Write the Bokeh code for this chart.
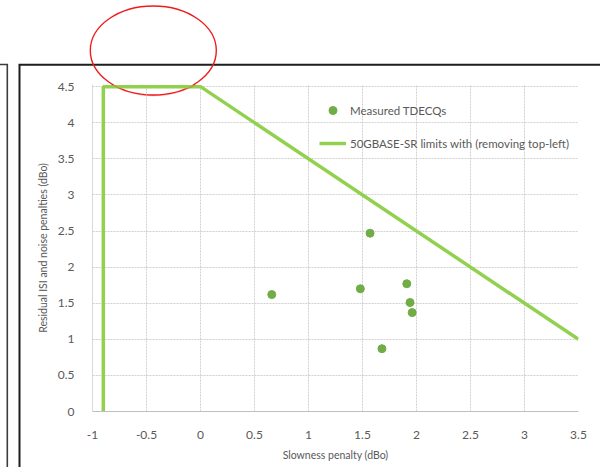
import numpy as np
from urllib.parse import quote
from bokeh.plotting import figure
from bokeh.models import Range1d, FixedTicker, Legend, LegendItem, PolyAnnotation
from bokeh.embed import file_html
from bokeh.resources import INLINE

# ---- data ----
tdecq_x = [0.66, 1.48, 1.57, 1.91, 1.94, 1.96, 1.68]
tdecq_y = [1.62, 1.70, 2.47, 1.77, 1.51, 1.37, 0.87]
limit_x = [-0.9, -0.9, 0.0, 3.5]
limit_y = [0.0, 4.5, 4.5, 1.0]
x_ticks = [-1, -0.5, 0, 0.5, 1, 1.5, 2, 2.5, 3, 3.5]
y_ticks = [0, 0.5, 1, 1.5, 2, 2.5, 3, 3.5, 4, 4.5]

W, H = 600, 467
BL, BR, BT, BB = 92, 22, 84, 56
FONT = "Lato"
GREY = "#595959"

# decoration drawn behind the canvas: outer panel frames and red ellipse
ELL_CX, ELL_CY, ELL_RX, ELL_RY = 153.3, 50.5, 63.0, 44.5
svg = (f'<svg xmlns="http://www.w3.org/2000/svg" width="{W}" height="{H}">'
       f'<path d="M0 64.5 H7.3 V{H}" fill="none" stroke="rgb(60,60,60)" stroke-width="1.6"/>'
       f'<path d="M19.5 {H} V64.7 H{W}" fill="none" stroke="rgb(30,30,30)" stroke-width="2"/>'
       f'<ellipse cx="{ELL_CX}" cy="{ELL_CY}" rx="{ELL_RX}" ry="{ELL_RY}" fill="none" '
       f'stroke="rgb(238,28,28)" stroke-width="1.4"/></svg>')

p = figure(width=W, height=H, output_backend="svg", toolbar_location=None,
           x_range=Range1d(-1, 3.5), y_range=Range1d(0, 4.53),
           min_border_left=BL, min_border_right=BR, min_border_top=BT,
           min_border_bottom=BB)
p.outline_line_color = None
p.background_fill_alpha = 0
p.border_fill_alpha = 0
p.styles = {"background-color": "white",
            "background-image": f'url("data:image/svg+xml,{quote(svg, safe="")}")',
            "background-repeat": "no-repeat"}

for ax in (p.xaxis[0], p.yaxis[0]):
    ax.major_tick_line_color = None
    ax.minor_tick_line_color = None
    ax.major_label_text_font = FONT
    ax.major_label_text_font_size = "12px"
    ax.major_label_text_color = GREY
    ax.axis_label_text_font = FONT
    ax.axis_label_text_font_size = "10.5px"
    ax.axis_label_text_font_style = "normal"
    ax.axis_label_text_color = GREY

p.xaxis.ticker = FixedTicker(ticks=x_ticks)
p.yaxis.ticker = FixedTicker(ticks=y_ticks)
p.xaxis.major_label_overrides = {-1: "-1", -0.5: "-0.5"}
p.xaxis.axis_label = "Slowness penalty (dBo)"
p.yaxis.axis_label = "Residual ISI and noise penalties (dBo)"
p.xaxis.axis_line_color = "#bfbfbf"
p.yaxis.axis_line_color = "#d9d9d9"
p.xaxis.major_label_standoff = 13
p.yaxis.major_label_standoff = 12
p.xaxis.axis_label_standoff = 7
p.yaxis.axis_label_standoff = 6

p.xgrid.ticker = FixedTicker(ticks=x_ticks)
p.ygrid.ticker = FixedTicker(ticks=y_ticks)
for g in (p.xgrid[0], p.ygrid[0]):
    g.grid_line_color = "#d0d0d0"
    g.grid_line_dash = "2 1"
    g.grid_line_width = 1

lim = p.line(limit_x, limit_y, line_color="#92d050", line_width=3.5)
pts = p.scatter(tdecq_x, tdecq_y, size=8, fill_color="#70ad47", line_color="#70ad47")

legend = Legend(items=[LegendItem(label="Measured TDECQs", renderers=[pts]),
                       LegendItem(label="50GBASE-SR limits with (removing top-left)", renderers=[lim])],
                location=(227, 258), orientation="vertical")
legend.border_line_color = None
legend.background_fill_alpha = 0
legend.padding = 0
legend.margin = 0
legend.spacing = 13
legend.glyph_width = 27
legend.glyph_height = 20
legend.label_standoff = 4
legend.label_text_font = FONT
legend.label_text_font_size = "11.5px"
legend.label_text_color = GREY
p.add_layout(legend, "center")

# part of the red ellipse that lies over the plot frame (frame-relative screen units)
t = np.linspace(0, 2 * np.pi, 180)
ex = (ELL_CX - BL) + ELL_RX * np.cos(t)
ey = (H - BB - ELL_CY) - ELL_RY * np.sin(t)
ell = PolyAnnotation(xs=list(ex), ys=list(ey), xs_units="screen", ys_units="screen",
                     fill_alpha=0, line_color="#ee1c1c", line_width=1.4)
p.add_layout(ell)

open("out.html", "w").write(file_html(p, INLINE))
